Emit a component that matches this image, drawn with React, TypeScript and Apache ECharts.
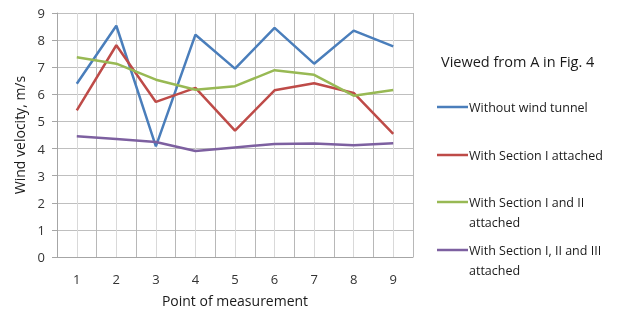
import React, { useEffect, useRef } from "react";
import * as echarts from "echarts";

const categories = [1, 2, 3, 4, 5, 6, 7, 8, 9];
const seriesNames = [
  "Without wind tunnel",
  "With Section I attached",
  "With Section I and II\nattached",
  "With Section I, II and III\nattached",
];
const seriesColors = ["#4A7EBB", "#BE4B48", "#98B954", "#7D60A0"];
const withoutTunnel = [6.39, 8.53, 4.08, 8.2, 6.95, 8.45, 7.13, 8.35, 7.77];
const sectionI = [5.41, 7.81, 5.72, 6.24, 4.66, 6.15, 6.41, 6.05, 4.54];
const sectionII = [7.37, 7.13, 6.54, 6.17, 6.3, 6.89, 6.72, 5.95, 6.16];
const sectionIII = [4.45, 4.35, 4.24, 3.91, 4.04, 4.17, 4.19, 4.12, 4.2];
const yTicks = [0, 9, 1];
const legendTitle = "Viewed from A in Fig. 4";
const xName = "Point of measurement";
const yName = "Wind velocity, m/s";

const FONT = "'Open Sans', 'Liberation Sans', sans-serif";

export default function App() {
  const ref = useRef<HTMLDivElement>(null);
  useEffect(() => {
    if (!ref.current) return;
    const chart = echarts.init(ref.current, undefined, { renderer: "svg" });
    const allData = [withoutTunnel, sectionI, sectionII, sectionIII];
    const legendTops = [107, 155, 202, 250];
    const graphics: any[] = [
      {
        type: "text",
        x: 441,
        y: 54,
        style: { text: legendTitle, font: `14.5px ${FONT}`, fill: "#1a1a1a", verticalAlign: "top" },
      },
    ];
    seriesNames.forEach((n, i) => {
      graphics.push({
        type: "line",
        shape: { x1: 437, y1: legendTops[i], x2: 468, y2: legendTops[i] },
        style: { stroke: seriesColors[i], lineWidth: 2.5 },
      });
      graphics.push({
        type: "text",
        x: 469,
        y: legendTops[i] - 10,
        style: {
          text: n,
          font: `12.5px ${FONT}`,
          fill: "#1a1a1a",
          lineHeight: 20,
          verticalAlign: "top",
        },
      });
    });
    chart.setOption({
      animation: false,
      textStyle: { fontFamily: FONT },
      grid: { left: 57, right: 219, top: 13, bottom: 59, containLabel: false },
      xAxis: {
        type: "value",
        min: 0.5,
        max: 9.5,
        interval: 0.5,
        name: xName,
        nameLocation: "middle",
        nameGap: 36,
        nameTextStyle: { fontSize: 14, color: "#1a1a1a", fontFamily: FONT },
        axisLine: { show: true, onZero: false, lineStyle: { color: "#a6a6a6", width: 1 } },
        axisTick: { show: false },
        axisLabel: {
          margin: 15,
          fontSize: 13,
          color: "#333",
          fontFamily: FONT,
          formatter: (v: number) => (Number.isInteger(v) ? String(v) : ""),
        },
        splitLine: { show: true, lineStyle: { color: ["#b8b8b8", "#d9d9d9"], width: 1 } },
      },
      yAxis: {
        type: "value",
        min: yTicks[0],
        max: yTicks[1],
        interval: yTicks[2],
        name: yName,
        nameLocation: "middle",
        nameGap: 28,
        nameTextStyle: { fontSize: 14, color: "#1a1a1a", fontFamily: FONT },
        axisLine: { show: true, lineStyle: { color: "#a6a6a6", width: 1 } },
        axisTick: { show: true, length: 5, lineStyle: { color: "#a6a6a6" } },
        axisLabel: { margin: 12, fontSize: 13, color: "#333", fontFamily: FONT },
        splitLine: { show: true, lineStyle: { color: "#bfbfbf", width: 1 } },
      },
      graphic: graphics,
      series: seriesNames.map((n, i) => ({
        name: n,
        type: "line",
        symbol: "none",
        lineStyle: { color: seriesColors[i], width: 2.5 },
        itemStyle: { color: seriesColors[i] },
        data: categories.map((c, j) => [c, allData[i][j]]),
      })),
    });
    return () => chart.dispose();
  }, []);
  return (
    <div
      ref={ref}
      style={{ position: "fixed", left: 0, top: 0, width: 632, height: 316 }}
    />
  );
}
